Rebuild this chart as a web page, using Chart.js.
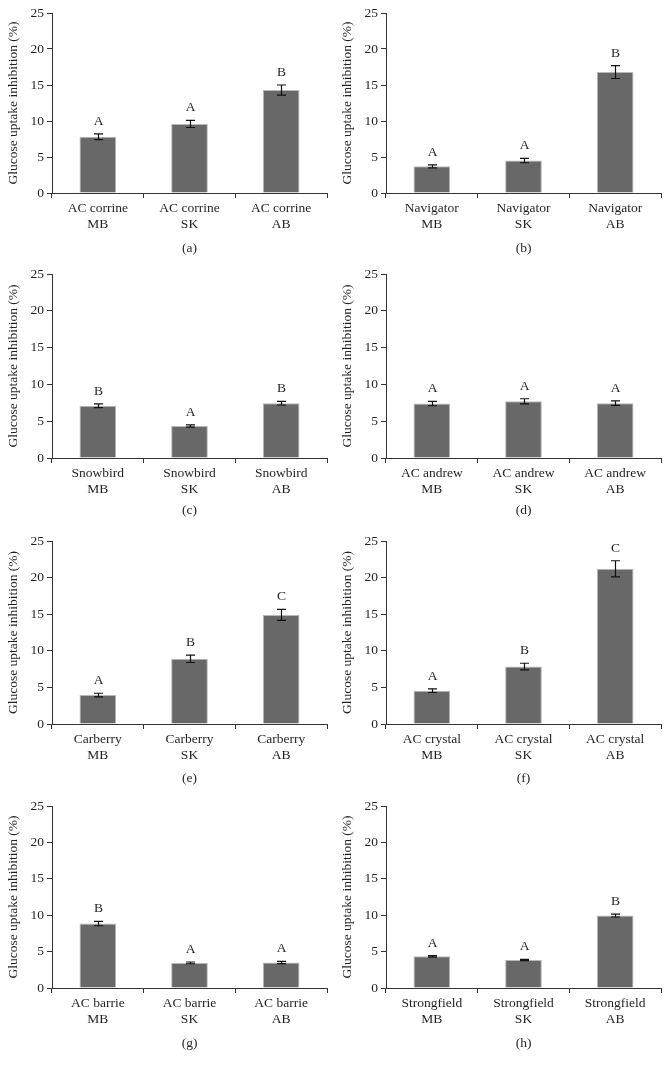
<!DOCTYPE html>
<html>
<head>
<meta charset="utf-8">
<script src="https://cdn.jsdelivr.net/npm/chart.js@4"></script>
<style>
  body { margin: 0; background: #fff; }
  #page { position: relative; width: 668px; height: 1073px; }
  .panel { position: absolute; width: 334px; }
</style>
</head>
<body>
<div id="page"></div>
<script>
// one entry per panel, order (a) .. (h)
const cultivars = ['AC corrine', 'Navigator', 'Snowbird', 'AC andrew', 'Carberry', 'AC crystal', 'AC barrie', 'Strongfield'];
const regions = ['MB', 'SK', 'AB'];
const captions = ['(a)', '(b)', '(c)', '(d)', '(e)', '(f)', '(g)', '(h)'];

const means = [
  [7.8, 9.6, 14.3],
  [3.7, 4.5, 16.8],
  [7.1, 4.35, 7.45],
  [7.4, 7.7, 7.45],
  [3.95, 8.9, 14.9],
  [4.55, 7.85, 21.2],
  [8.85, 3.45, 3.5],
  [4.35, 3.85, 9.95]
];
const errors = [
  [0.4, 0.5, 0.7],
  [0.2, 0.3, 0.9],
  [0.25, 0.15, 0.25],
  [0.3, 0.35, 0.3],
  [0.25, 0.5, 0.75],
  [0.25, 0.45, 1.1],
  [0.3, 0.12, 0.15],
  [0.1, 0.08, 0.2]
];
const letters = [
  ['A', 'A', 'B'],
  ['A', 'A', 'B'],
  ['B', 'A', 'B'],
  ['A', 'A', 'A'],
  ['A', 'B', 'C'],
  ['A', 'B', 'C'],
  ['B', 'A', 'A'],
  ['A', 'A', 'B']
];
const yTicks = [0, 5, 10, 15, 20, 25];

// page layout for each row: plot top, plot bottom, bottom of caption
const rows = [
  { top: 13, bottom: 193, end: 265 },
  { top: 274, bottom: 458, end: 527 },
  { top: 541, bottom: 724, end: 795 },
  { top: 806, bottom: 988, end: 1060 }
];

const FONT = '"Liberation Serif", "DejaVu Serif", serif';
const INK = '#231f20';
const SIZE = 13.5;

const errorBars = {
  id: 'errorBars',
  afterDatasetsDraw(chart) {
    const ctx = chart.ctx;
    const y = chart.scales.y;
    const meta = chart.getDatasetMeta(0);
    const idx = chart.options.plugins.errorBars.panel;
    ctx.save();
    meta.data.forEach((bar, i) => {
      const v = means[idx][i], e = errors[idx][i];
      const yTop = y.getPixelForValue(v + e);
      const yBot = y.getPixelForValue(v - e);
      const x = Math.round(bar.x) + 0.5;
      ctx.strokeStyle = '#111';
      ctx.lineWidth = 1.2;
      ctx.beginPath();
      ctx.moveTo(x, yTop); ctx.lineTo(x, yBot);
      ctx.moveTo(x - 4.5, yTop); ctx.lineTo(x + 4.5, yTop);
      ctx.moveTo(x - 4.5, yBot); ctx.lineTo(x + 4.5, yBot);
      ctx.stroke();
      ctx.fillStyle = INK;
      ctx.font = SIZE + 'px ' + FONT;
      ctx.textAlign = 'center';
      ctx.textBaseline = 'alphabetic';
      ctx.fillText(letters[idx][i], x, yTop - 9);
    });
    ctx.restore();
  }
};

const page = document.getElementById('page');

cultivars.forEach((name, p) => {
  const row = rows[Math.floor(p / 2)];
  const col = p % 2;
  const canvasTop = row.top - 13;
  const height = row.end - canvasTop;

  const div = document.createElement('div');
  div.className = 'panel';
  div.style.left = (col * 334) + 'px';
  div.style.top = canvasTop + 'px';
  div.style.height = height + 'px';
  const canvas = document.createElement('canvas');
  div.appendChild(canvas);
  page.appendChild(div);

  new Chart(canvas, {
    type: 'bar',
    data: {
      labels: regions.map(r => [name, r]),
      datasets: [{
        data: means[p],
        backgroundColor: '#686868',
        borderColor: '#b8b8b8',
        borderWidth: 1,
        barPercentage: 0.4,
        categoryPercentage: 1
      }]
    },
    options: {
      responsive: true,
      maintainAspectRatio: false,
      animation: false,
      events: [],
      layout: { padding: { top: 13, right: 7, left: 0, bottom: 0 } },
      plugins: {
        legend: { display: false },
        tooltip: { enabled: false },
        errorBars: { panel: p }
      },
      scales: {
        x: {
          grid: { drawOnChartArea: false, offset: true, tickLength: 5, color: '#333', tickColor: '#333' },
          border: { color: '#333', width: 1 },
          ticks: { color: INK, font: { family: FONT, size: SIZE }, padding: 2, maxRotation: 0 },
          title: { display: true, text: captions[p], color: INK, font: { family: FONT, size: SIZE }, padding: { top: 8, bottom: 8 } },
          afterFit: s => { s.height = row.end - row.bottom; }
        },
        y: {
          min: 0,
          max: 25,
          afterBuildTicks: s => { s.ticks = yTicks.map(v => ({ value: v })); },
          grid: { drawOnChartArea: false, tickLength: 5, color: '#333', tickColor: '#333' },
          border: { color: '#333', width: 1 },
          ticks: { color: INK, font: { family: FONT, size: SIZE }, padding: 3 },
          title: { display: true, text: 'Glucose uptake inhibition (%)', color: INK, font: { family: FONT, size: SIZE }, padding: { top: 5, bottom: 0 } },
          afterFit: s => { s.width = 52; }
        }
      }
    },
    plugins: [errorBars]
  });
});
</script>
</body>
</html>
